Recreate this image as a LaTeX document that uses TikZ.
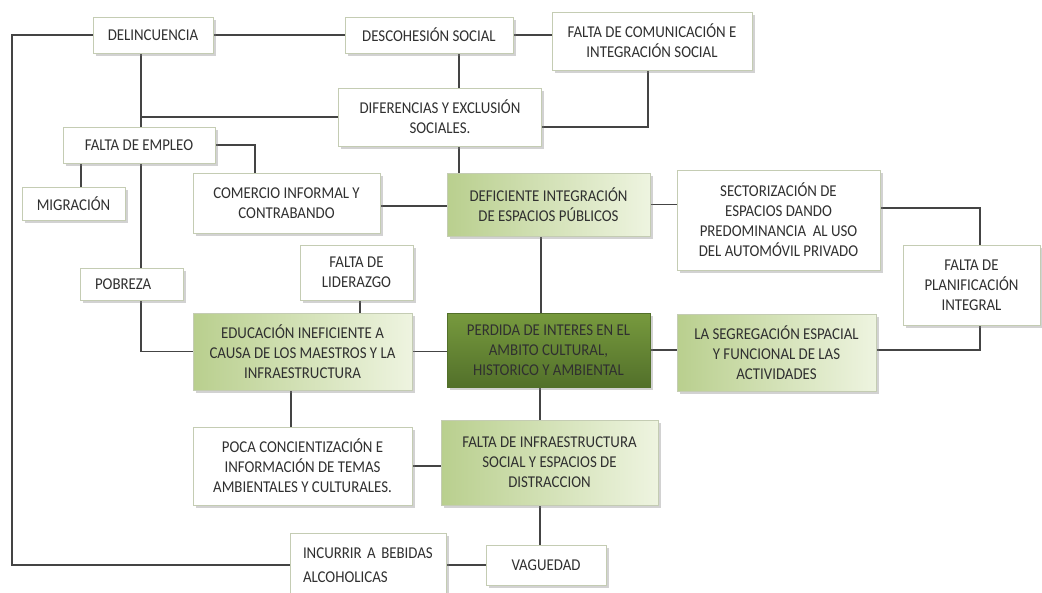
\documentclass[tikz,border=0pt]{standalone}
\usepackage{fontspec}
\setmainfont{Carlito}[FakeStretch=0.9]
\usetikzlibrary{shadows,backgrounds}
\definecolor{txt}{HTML}{303030}
\definecolor{bord}{HTML}{C4CCB3}
\definecolor{lgA}{HTML}{B9CF8E}
\definecolor{lgB}{HTML}{EEF4E0}
\definecolor{dgA}{HTML}{779A3E}
\definecolor{dgB}{HTML}{52702A}
\definecolor{wirec}{HTML}{444444}
\begin{document}
\begin{tikzpicture}[x=1pt,y=-1pt,
  box/.style={draw=bord, line width=0.7pt, fill=white, align=center, inner sep=2pt,
    text=txt, font=\fontsize{16.5}{20}\selectfont,
    drop shadow={shadow xshift=2.5pt, shadow yshift=-2.5pt, opacity=0.35, fill=gray}},
  gbox/.style={box, left color=lgA, right color=lgB},
  dbox/.style={box, draw=dgB, top color=dgA, bottom color=dgB},
  wire/.style={draw=wirec, line width=1.3pt}]
\begin{pgfonlayer}{background}
\fill[white] (0,0) rectangle (1042,592);
\end{pgfonlayer}
\useasboundingbox (0,0) rectangle (1042,592);

\node[box, minimum width=120pt, minimum height=36pt] (del) at (153,35) {DELINCUENCIA};
\node[box, minimum width=168pt, minimum height=36pt] (desc) at (429,35) {DESCOHESIÓN SOCIAL};
\node[box, minimum width=200pt, minimum height=58pt] (fcom) at (652,41) {FALTA DE COMUNICACIÓN E\\INTEGRACIÓN SOCIAL};
\node[box, minimum width=203pt, minimum height=58pt] (dif) at (440,117) {DIFERENCIAS Y EXCLUSIÓN\\SOCIALES.};
\node[box, minimum width=152pt, minimum height=36pt] (emp) at (139,145) {FALTA DE EMPLEO};
\node[box, minimum width=103pt, minimum height=33pt] (mig) at (73.5,203.5) {MIGRACIÓN};
\node[box, minimum width=187pt, minimum height=60pt] (com) at (286.5,203) {COMERCIO INFORMAL Y\\CONTRABANDO};
\node[gbox, minimum width=203pt, minimum height=63pt] (defi) at (548.5,204.5) {DEFICIENTE INTEGRACIÓN\\DE ESPACIOS PÚBLICOS};
\node[box, minimum width=203pt, minimum height=100pt] (sect) at (778.5,220) {SECTORIZACIÓN DE\\ESPACIOS DANDO\\PREDOMINANCIA\ \ AL USO\\DEL AUTOMÓVIL PRIVADO};
\node[box, minimum width=137pt, minimum height=80pt] (plan) at (971.5,285) {FALTA DE\\PLANIFICACIÓN\\INTEGRAL};
\node[box, minimum width=113pt, minimum height=55pt] (lid) at (356.5,272.5) {FALTA DE\\LIDERAZGO};
\node[box, minimum width=103pt, minimum height=32pt, text width=73pt, align=left] (pob) at (131.5,284) {POBREZA};
\node[gbox, minimum width=219pt, minimum height=77pt] (edu) at (302.5,351.5) {EDUCACIÓN INEFICIENTE A\\CAUSA DE LOS MAESTROS Y LA\\INFRAESTRUCTURA};
\node[dbox, minimum width=203pt, minimum height=74pt] (per) at (548.5,350) {PERDIDA DE INTERES EN EL\\AMBITO CULTURAL,\\HISTORICO Y AMBIENTAL};
\node[gbox, minimum width=199pt, minimum height=77pt] (seg) at (776.5,353) {LA SEGREGACIÓN ESPACIAL\\Y FUNCIONAL DE LAS\\ACTIVIDADES};
\node[box, minimum width=219pt, minimum height=78pt] (poca) at (302.5,466) {POCA CONCIENTIZACIÓN E\\INFORMACIÓN DE TEMAS\\AMBIENTALES Y CULTURALES.};
\node[gbox, minimum width=217pt, minimum height=85pt] (finf) at (549.5,462.5) {FALTA DE INFRAESTRUCTURA\\SOCIAL Y ESPACIOS DE\\DISTRACCION};
\node[box, minimum width=156pt, minimum height=64pt, text width=130pt, align=left, font=\fontsize{16.5}{24}\selectfont] (inc) at (368,565) {INCURRIR A BEBIDAS\\ALCOHOLICAS};
\node[box, minimum width=120pt, minimum height=40pt] (vag) at (546,565) {VAGUEDAD};

\begin{pgfonlayer}{background}
\draw[wire] (del.west) -- (12,35) |- (inc.west);
\draw[wire] (del.east) -- (desc.west);
\draw[wire] (desc.east) -- (desc.east -| fcom.west);
\draw[wire] ([xshift=30pt]desc.south) -- ([xshift=19pt]dif.north);
\draw[wire] ([xshift=-4pt]fcom.south) |- ([yshift=-10pt]dif.east);
\draw[wire] ([xshift=-12pt]del.south) -- ([xshift=2pt]emp.north);
\draw[wire] ([xshift=-12pt]del.south |- dif.west) -- (dif.west);
\draw[wire] (emp.east) -| ([xshift=-31.5pt]com.north);
\draw[wire] ([xshift=-58pt]emp.south) -- ([xshift=-58pt]emp.south |- mig.north);
\draw[wire] ([xshift=2pt]emp.south) -- ([xshift=2pt]emp.south |- pob.north);
\draw[wire] ([xshift=9.5pt]pob.south) |- (edu.west);
\draw[wire] ([yshift=-3pt]com.east) -- ([yshift=-3pt]com.east -| defi.west);
\draw[wire] ([xshift=19pt]dif.south) -- ([xshift=19pt]dif.south |- defi.north);
\draw[wire] (defi.east) -- (defi.east -| sect.west);
\draw[wire] ([yshift=12pt]sect.east) -| ([xshift=8.5pt]plan.north);
\draw[wire] ([xshift=8.5pt]plan.south) |- ([yshift=3pt]seg.east);
\draw[wire] ([xshift=-7.5pt]defi.south) -- ([xshift=-7.5pt]defi.south |- per.north);
\draw[wire] ([xshift=3.5pt]lid.south) -- ([xshift=3.5pt]lid.south |- edu.north);
\draw[wire] (edu.east) -- (edu.east -| per.west);
\draw[wire] (per.east) -- (per.east -| seg.west);
\draw[wire] ([xshift=-8.5pt]per.south) -- ([xshift=-8.5pt]per.south |- finf.north);
\draw[wire] ([xshift=-11.5pt]edu.south) -- ([xshift=-11.5pt]edu.south |- poca.north);
\draw[wire] (poca.east) -- (poca.east -| finf.west);
\draw[wire] ([xshift=-9.5pt]finf.south) -- ([xshift=-9.5pt]finf.south |- vag.north);
\draw[wire] (inc.east) -- (inc.east -| vag.west);
\end{pgfonlayer}
\end{tikzpicture}
\end{document}
